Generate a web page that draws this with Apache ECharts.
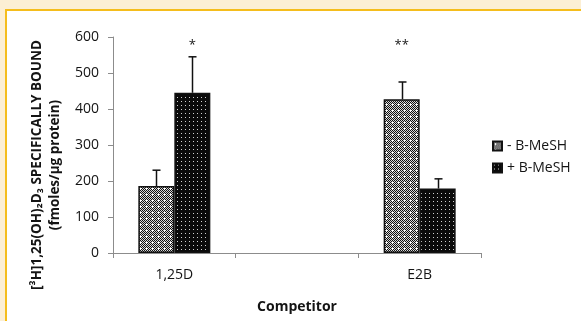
<!DOCTYPE html>
<html>
<head>
<meta charset="utf-8">
<style>
  html, body { margin: 0; padding: 0; background: #fcefd4; }
  #frame { position: absolute; left: 5px; top: 9px; right: 0; bottom: 0; background: #fff;
           border-left: 2px solid #f5bd1c; border-top: 2px solid #f5bd1c; }
  #chart { position: absolute; left: 0; top: 0; width: 581px; height: 321px; }
</style>
<script src="https://cdn.jsdelivr.net/npm/echarts@6/dist/echarts.min.js"></script>
</head>
<body>
<div id="frame"></div>
<div id="chart"></div>
<script>
// Competitor categories (middle slot is an empty spacer band)
const categories = ['1,25D', '', 'E2B'];
const yTicks = [0, 100, 200, 300, 400, 500, 600];
// Specific binding, fmoles/µg protein
const minusMeSH = [186, null, 427];
const plusMeSH = [445, null, 179];
// Standard errors (upper whisker only)
const minusErr = [44, null, 48];
const plusErr = [100, null, 27];
// Significance marks: [category index, series (0 = -, 1 = +), text]
const marks = [[0, 1, '*'], [2, 0, '**']];

const FONT = '"Open Sans", "Liberation Sans", sans-serif';

function makePattern(kind) {
  const c = document.createElement('canvas');
  const ctx = c.getContext('2d');
  if (kind === 'minus') {
    c.width = 6; c.height = 6;
    for (let y = 0; y < 6; y++) for (let x = 0; x < 6; x++) {
      ctx.fillStyle = ((x + y) % 2 === 0) ? '#111111' : '#d8d8d8';
      ctx.fillRect(x, y, 1, 1);
    }
    ctx.fillStyle = '#ffffff';
    ctx.fillRect(2, 2, 2, 1);
    ctx.fillRect(2, 3, 1, 1);
  } else {
    c.width = 4; c.height = 4;
    ctx.fillStyle = '#0a0a0a';
    ctx.fillRect(0, 0, 4, 4);
    ctx.fillStyle = '#d0d0d0';
    ctx.fillRect(1, 1, 1, 1);
  }
  return { image: c, repeat: 'repeat' };
}

const chart = echarts.init(document.getElementById('chart'), null, { renderer: 'canvas' });

const BAR_W = 36;
const errData = [];
[minusMeSH, plusMeSH].forEach((vals, s) => {
  const errs = s === 0 ? minusErr : plusErr;
  vals.forEach((v, i) => {
    if (v != null) errData.push([i, v, errs[i], s]);
  });
});
const markData = marks.map(m => [m[0], 578, m[1], m[2]]);

const axisGray = '#8c8c8c';
const ink = '#141414';

chart.setOption({
  backgroundColor: 'transparent',
  animation: false,
  grid: { left: 113, right: 100, top: 37, bottom: 68, containLabel: false },
  legend: {
    orient: 'vertical',
    left: 487, top: 134,
    itemWidth: 9, itemHeight: 9, itemGap: 8,
    icon: 'rect',
    textStyle: { fontFamily: FONT, fontSize: 14, color: ink, padding: [0, 0, 0, 0] },
    data: ['- B-MeSH', '+ B-MeSH']
  },
  xAxis: {
    type: 'category',
    data: categories,
    name: 'Competitor',
    nameLocation: 'middle',
    nameGap: 47,
    nameTextStyle: { fontFamily: FONT, fontSize: 14, fontWeight: 'bold', color: ink },
    axisLine: { lineStyle: { color: axisGray, width: 1 } },
    axisTick: { show: true, alignWithLabel: false, length: 5, lineStyle: { color: axisGray } },
    axisLabel: { fontFamily: FONT, fontSize: 14, color: ink, margin: 15 }
  },
  yAxis: {
    type: 'value',
    min: 0, max: 600, interval: 100,
    axisLine: { show: true, lineStyle: { color: axisGray, width: 1 } },
    axisTick: { show: true, length: 5, lineStyle: { color: axisGray } },
    splitLine: { show: false },
    axisLabel: {
      fontFamily: FONT, fontSize: 14, color: ink, margin: 14,
      formatter: v => (yTicks.indexOf(v) >= 0 ? String(v) : '')
    }
  },
  graphic: [
    {
      type: 'text', rotation: Math.PI / 2, x: 37, y: 165,
      style: {
        text: '[³H]1,25(OH)₂D₃ SPECIFICALLY BOUND',
        font: 'bold 13.5px ' + FONT, fill: ink,
        align: 'center', verticalAlign: 'middle'
      }
    },
    {
      type: 'text', rotation: Math.PI / 2, x: 55, y: 165,
      style: {
        text: '(fmoles/µg protein)',
        font: 'bold 13.5px ' + FONT, fill: ink,
        align: 'center', verticalAlign: 'middle'
      }
    }
  ],
  series: [
    {
      name: '- B-MeSH', type: 'bar', data: minusMeSH,
      barWidth: BAR_W, barGap: '0%',
      itemStyle: { color: makePattern('minus'), borderColor: '#111', borderWidth: 1.5 }
    },
    {
      name: '+ B-MeSH', type: 'bar', data: plusMeSH,
      barWidth: BAR_W, barGap: '0%',
      itemStyle: { color: makePattern('plus'), borderColor: '#111', borderWidth: 1.5 }
    },
    {
      type: 'custom', name: 'err', data: errData, z: 5,
      renderItem: (params, api) => {
        const i = api.value(0), v = api.value(1), e = api.value(2), s = api.value(3);
        const base = api.coord([i, v]);
        const top = api.coord([i, v + e]);
        const x = Math.round(base[0] + (s === 0 ? -BAR_W / 2 : BAR_W / 2)) + 0.5;
        const cap = 4;
        return {
          type: 'group',
          children: [
            { type: 'line', shape: { x1: x, y1: base[1], x2: x, y2: top[1] },
              style: { stroke: '#111', lineWidth: 1.5 } },
            { type: 'line', shape: { x1: x - cap, y1: top[1], x2: x + cap, y2: top[1] },
              style: { stroke: '#111', lineWidth: 1.5 } }
          ]
        };
      }
    },
    {
      type: 'custom', name: 'sig', data: markData, z: 6,
      renderItem: (params, api) => {
        const i = api.value(0), y = api.value(1), s = api.value(2);
        const p = api.coord([i, y]);
        const x = p[0] + (s === 0 ? -BAR_W / 2 : BAR_W / 2);
        return {
          type: 'text',
          style: {
            x: x, y: p[1], text: markData[params.dataIndex][3],
            font: '13px ' + FONT, fill: ink,
            align: 'center', verticalAlign: 'middle'
          }
        };
      }
    }
  ]
});
</script>
</body>
</html>
